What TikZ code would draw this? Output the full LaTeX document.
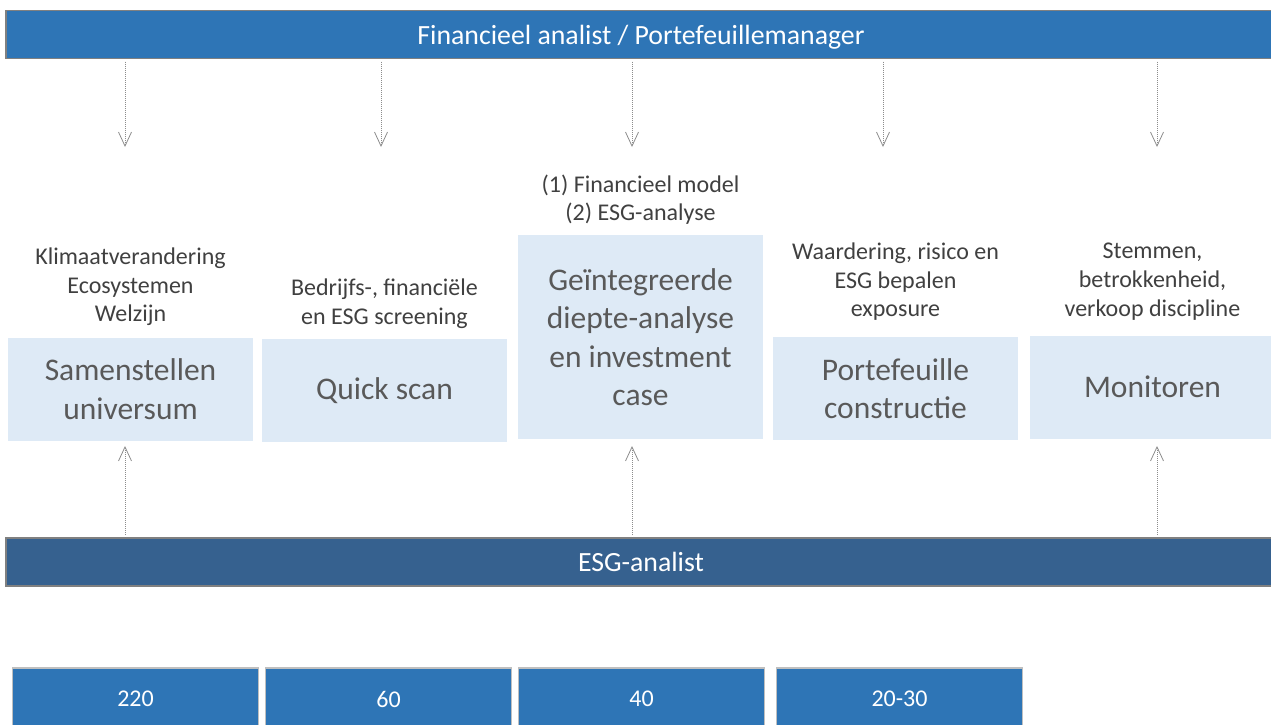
\documentclass[tikz,border=0pt]{standalone}
\usepackage{fontspec}
\setmainfont{Carlito}
\usetikzlibrary{arrows.meta, positioning}
\definecolor{barblue}{HTML}{2E75B6}
\definecolor{esgblue}{HTML}{36618F}
\definecolor{stagefill}{HTML}{DEEAF6}
\definecolor{labelgray}{HTML}{404040}
\definecolor{stagegray}{HTML}{595959}
\definecolor{linegray}{HTML}{8C8C8C}

\begin{document}
\begin{tikzpicture}[x = 1pt, y = -1pt, inner sep = 0pt,
    bar/.style = {draw = gray, line width = 1.5pt, minimum width = 1270pt, minimum height = 48pt, text depth = 0pt, text = white, font = \fontsize{27.8}{32}\selectfont},
    stage/.style = {fill = stagefill, minimum width = 245pt, minimum height = 103pt, text = stagegray, align = center, font = \fontsize{31.5}{38.5}\selectfont},
    lbl/.style = {text = labelgray, align = center, font = \fontsize{24}{28.7}\selectfont},
    count/.style = {fill = barblue, draw = black!25, line width = 1.5pt, minimum width = 246pt, minimum height = 62pt, text = white, font = \fontsize{24}{28}\selectfont},
    flow/.style = {draw = linegray, line width = 0.8pt, dash pattern = on 1pt off 1pt, -{Straight Barb[length = 14pt, width = 13pt, line width = 0.8pt]}}]
    \useasboundingbox (0,0) rectangle (1271,725);
    \clip (0,0) rectangle (1271,725);

    \node[bar, fill = barblue]			(fa)	at (641,34.5)		{Financieel analist / Portefeuillemanager};
    \node[bar, fill = esgblue]			(esg)	at (641,562)		{ESG-analist};

    \node[stage]						(b1)	at (130.5,389)		{Samenstellen\\universum};
    \node[stage]						(b2)	at (384.5,390.5)	{Quick scan};
    \node[stage, minimum height = 204pt]	(b3)	at (640.5,337)		{Geïntegreerde\\diepte-analyse\\en investment\\case};
    \node[stage]						(b4)	at (895.5,388.5)	{Portefeuille\\constructie};
    \node[stage]						(b5)	at (1152.5,387)		{Monitoren};

    \node[lbl]	(l1)	[above = 11pt of b1]	{Klimaatverandering\\Ecosystemen\\Welzijn};
    \node[lbl]	(l2)	[above = 10pt of b2]	{Bedrijfs-, financiële\\en ESG screening};
    \node[lbl]	(l3)	[above = 10pt of b3]	{(1) Financieel model\\(2) ESG-analyse};
    \node[lbl]	(l4)	[above = 16pt of b4]	{Waardering, risico en\\ESG bepalen\\exposure};
    \node[lbl]	(l5)	[above = 15pt of b5]	{Stemmen,\\betrokkenheid,\\verkoop discipline};

    \node[count]	(n1)	at (135.5,699)	{220};
    \node[count]	(n2)	at (388.5,699)	{60};
    \node[count]	(n3)	at (641.5,699)	{40};
    \node[count]	(n4)	at (899.5,699)	{20-30};

    \foreach \x [count = \i] in {125, 381, 632, 883, 1157}
        \coordinate (d\i) at (\x,147);
    \foreach \x [count = \i] in {125, 632, 1157}
        \coordinate (u\i) at (\x,446);

    \foreach \i in {1,...,5}
        \draw[flow, shorten <= 2.5pt] (fa.south -| d\i) -- (d\i);
    \foreach \i in {1,...,3}
        \draw[flow, shorten <= 2.5pt] (esg.north -| u\i) -- (u\i);
\end{tikzpicture}
\end{document}
